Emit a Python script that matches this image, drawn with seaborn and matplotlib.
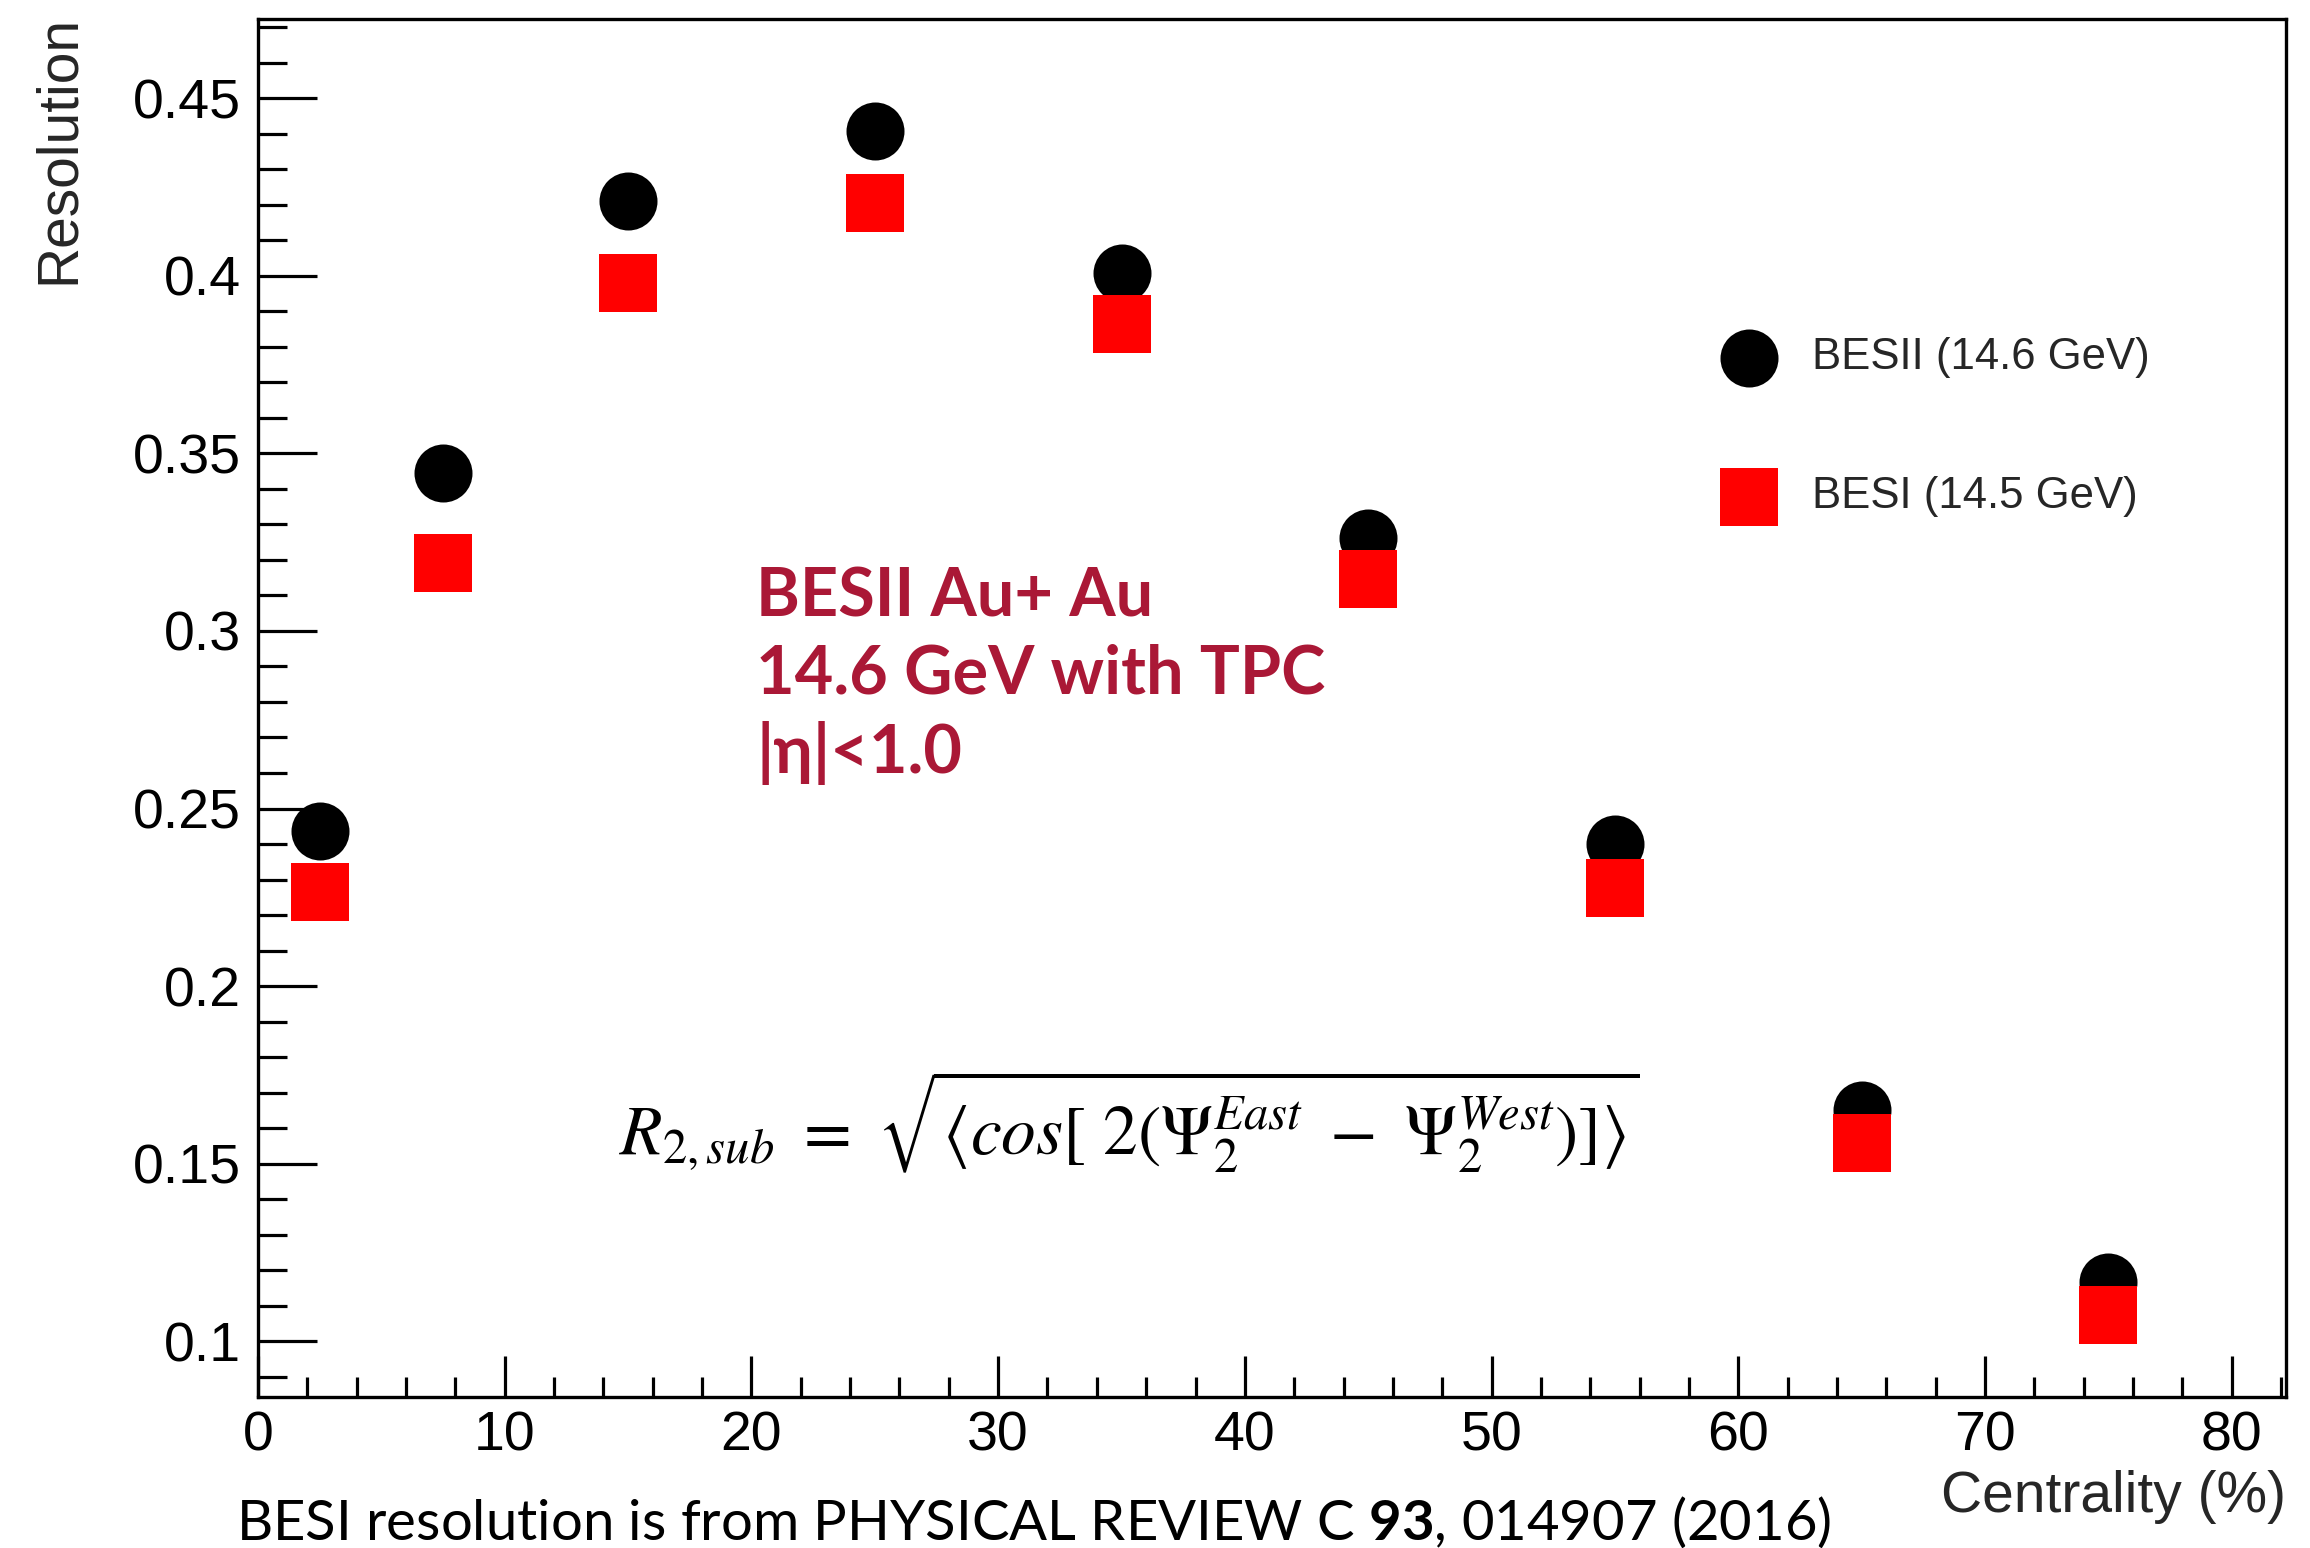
import matplotlib
matplotlib.use("Agg")
import numpy as np
import pandas as pd
import seaborn as sns
import matplotlib.pyplot as plt
from matplotlib.ticker import MultipleLocator, FixedLocator, FixedFormatter

# Event-plane resolution vs. centrality
centrality = [2.5, 7.5, 15, 25, 35, 45, 55, 65, 75]
res_besii = [0.2438, 0.3445, 0.4210, 0.4408, 0.4009, 0.3263, 0.2401, 0.1651, 0.1166]
res_besi = [0.2266, 0.3191, 0.3979, 0.4204, 0.3864, 0.3147, 0.2277, 0.1559, 0.1073]
series_names = ["BESII (14.6 GeV)", "BESI (14.5 GeV)"]

x_ticks = [0, 10, 20, 30, 40, 50, 60, 70, 80]
x_tick_labels = ["0", "10", "20", "30", "40", "50", "60", "70", "80"]
y_ticks = [0.1, 0.15, 0.2, 0.25, 0.3, 0.35, 0.4, 0.45]
y_tick_labels = ["0.1", "0.15", "0.2", "0.25", "0.3", "0.35", "0.4", "0.45"]

sns.set_style("white")
plt.rcParams["font.family"] = ["Liberation Sans", "DejaVu Sans"]
plt.rcParams["mathtext.fontset"] = "custom"
plt.rcParams["mathtext.rm"] = "Lato"
plt.rcParams["mathtext.bf"] = "Lato:bold"
plt.rcParams["mathtext.it"] = "Lato:italic"

W, H = 2310, 1548
DPI = 100
fig = plt.figure(figsize=(W / DPI, H / DPI), dpi=DPI)
fig.patch.set_facecolor("white")

ax_l, ax_r, ax_t, ax_b = 258, 2286, 19, 1397
ax = fig.add_axes([ax_l / W, 1 - ax_b / H, (ax_r - ax_l) / W, (ax_b - ax_t) / H])
ax.set_facecolor("white")

df = pd.DataFrame({
    "Centrality": centrality * 2,
    "Resolution": res_besii + res_besi,
    "Series": [series_names[0]] * len(centrality) + [series_names[1]] * len(centrality),
})

marker_pt = 58 / (DPI / 72)
sns.scatterplot(data=df[df.Series == series_names[0]], x="Centrality", y="Resolution",
                marker="o", color="black", s=marker_pt ** 2, linewidth=0,
                label=series_names[0], ax=ax, zorder=3)
sns.scatterplot(data=df[df.Series == series_names[1]], x="Centrality", y="Resolution",
                marker="s", color="#ff0000", s=marker_pt ** 2, linewidth=0,
                label=series_names[1], ax=ax, zorder=4)

ax.set_xlim(0, 82.2)
ax.set_ylim(0.0843, 0.4723)

ax.xaxis.set_major_locator(FixedLocator(x_ticks))
ax.xaxis.set_major_formatter(FixedFormatter(x_tick_labels))
ax.xaxis.set_minor_locator(MultipleLocator(2))
ax.yaxis.set_major_locator(FixedLocator(y_ticks))
ax.yaxis.set_major_formatter(FixedFormatter(y_tick_labels))
ax.yaxis.set_minor_locator(MultipleLocator(0.01))

px = 72 / DPI
ax.tick_params(axis="both", which="both", direction="in", left=True, bottom=True,
               top=False, right=False, color="black", width=2.3, labelsize=40,
               labelcolor="black")
ax.tick_params(axis="y", which="major", length=59 * px, pad=12)
ax.tick_params(axis="y", which="minor", length=29 * px)
ax.tick_params(axis="x", which="major", length=41 * px, pad=10)
ax.tick_params(axis="x", which="minor", length=20 * px)

for sp in ax.spines.values():
    sp.set_visible(True)
    sp.set_color("black")
    sp.set_linewidth(2.4)

ax.set_xlabel("Centrality (%)", fontsize=41, loc="right")
ax.xaxis.set_label_coords(1.0, -0.053)
ax.set_ylabel("Resolution", fontsize=41, loc="top")
ax.yaxis.set_label_coords(-0.085, 1.003)

leg = ax.legend(loc="upper left", bbox_to_anchor=(1718 / W, 1 - 337 / H),
                bbox_transform=fig.transFigure, frameon=False, fontsize=31.5,
                borderpad=0, borderaxespad=0, handlelength=1.4,
                handletextpad=0.75, labelspacing=2.25, markerscale=1)

# Collision-system annotation
fig.text(756 / W, 1 - 773 / H, "BESII Au+ Au\n14.6 GeV with TPC\n|η|<1.0",
         family=["Lato", "DejaVu Sans"], fontweight="bold", fontsize=48,
         color="#aa1836", ha="left", va="baseline", linespacing=1.3)

# Sub-event resolution definition
fig.text(619 / W, 1 - 1155 / H,
         r"$R_{2,sub}\ =\ \sqrt{\langle cos[\ 2(\mathit{\Psi}_2^{East}\ -\ \mathit{\Psi}_2^{West})]\rangle}$",
         fontsize=50, math_fontfamily="stix", ha="left", va="baseline", color="black")

# Reference note
fig.text(236 / W, 1 - 1540 / H,
         r"BESI resolution is from PHYSICAL REVIEW C $\mathbf{93}$, 014907 (2016)",
         family="Lato", fontsize=40.5, color="black", ha="left", va="baseline",
         math_fontfamily="custom")

fig.savefig("out.png", dpi=DPI, facecolor="white")
